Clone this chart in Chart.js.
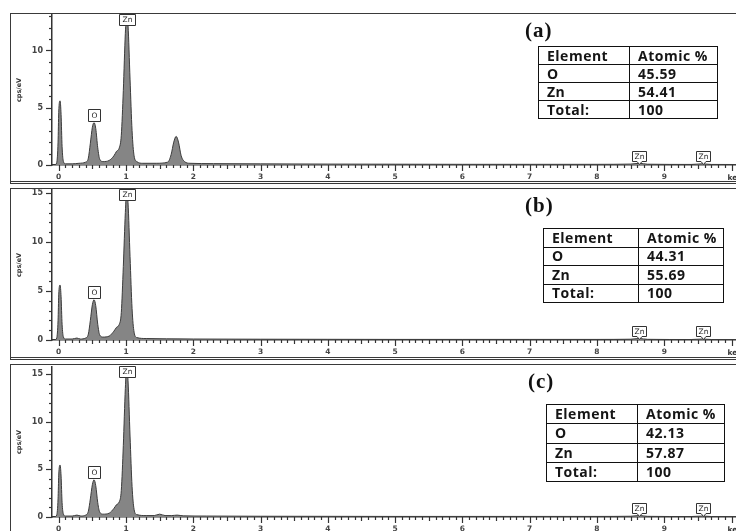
<!DOCTYPE html>
<html>
<head>
<meta charset="utf-8">
<script src="https://cdn.jsdelivr.net/npm/chart.js@4/dist/chart.umd.min.js"></script>
<style>
  html,body{margin:0;padding:0;background:#fff;}
  body{width:736px;height:531px;position:relative;overflow:hidden;}
  .panel{position:absolute;box-sizing:border-box;border:1.5px solid #3a3a3a;border-bottom:3px double #3a3a3a;background:#fff;}
  canvas{position:absolute;}
  .tbl{position:absolute;border-collapse:collapse;font-family:"Open Sans",sans-serif;font-weight:700;font-size:14px;color:#151515;letter-spacing:0.5px;}
  .tbl td{border:1.6px solid #111;padding:0 0 0 8px;line-height:1;white-space:nowrap;}
  .lbl{position:absolute;font-family:"Liberation Serif",serif;font-weight:700;font-size:21px;color:#111;letter-spacing:1px;line-height:1;}
</style>
</head>
<body>
<div class="panel" style="left:10px;top:13px;width:800px;height:171px"></div>
<div class="panel" style="left:10px;top:188px;width:800px;height:172px"></div>
<div class="panel" style="left:10px;top:364px;width:800px;height:200px"></div>
<canvas id="cA" width="740" height="169" style="left:11px;top:14px"></canvas>
<canvas id="cB" width="740" height="169" style="left:11px;top:189px"></canvas>
<canvas id="cC" width="740" height="169" style="left:11px;top:366px"></canvas>
<script>
// ---------- data ----------
const panelLabels = ['(a)', '(b)', '(c)'];
const tableHeader = ['Element', 'Atomic %'];
const tableElements = ['O', 'Zn', 'Total:'];
const atomicA = ['45.59', '54.41', '100'];
const atomicB = ['44.31', '55.69', '100'];
const atomicC = ['42.13', '57.87', '100'];

const energyA = [-0.06,-0.03,-0.01,0.0,0.02,0.035,0.05,0.07,0.1,0.2,0.3,0.4,0.44,0.47,0.5,0.525,0.55,0.58,0.61,0.66,0.75,0.82,0.86,0.9,0.93,0.96,0.99,1.01,1.03,1.06,1.09,1.12,1.16,1.25,1.45,1.62,1.67,1.71,1.745,1.78,1.82,1.87,1.95,2.3,3.0,4.0,5.0,6.0,7.0,8.0,8.5,8.63,8.75,9.4,9.57,9.7,10.2];
const countsA = [0,0.2,2.0,4.6,5.6,4.4,1.6,0.3,0.1,0.1,0.15,0.25,0.6,1.9,3.3,3.7,3.2,1.5,0.5,0.3,0.4,0.8,1.2,1.5,2.6,6.5,11.5,13.1,12.2,7.5,3,0.8,0.3,0.15,0.15,0.25,0.9,2.0,2.5,2.0,0.8,0.3,0.15,0.12,0.1,0.08,0.07,0.06,0.06,0.06,0.08,0.15,0.07,0.05,0.1,0.05,0.04];

const energyB = [-0.06,-0.03,-0.01,0.0,0.02,0.035,0.05,0.07,0.1,0.2,0.27,0.32,0.4,0.44,0.47,0.5,0.525,0.55,0.58,0.61,0.66,0.75,0.82,0.86,0.9,0.93,0.96,0.99,1.01,1.03,1.06,1.09,1.12,1.16,1.3,1.6,2.0,3.0,4.0,5.0,6.0,7.0,8.0,8.5,8.63,8.75,9.4,9.57,9.7,10.2];
const countsB = [0,0.2,2.0,4.6,5.6,4.4,1.6,0.3,0.1,0.1,0.2,0.1,0.2,0.6,2.0,3.6,4.1,3.5,1.6,0.5,0.3,0.4,0.9,1.3,1.6,2.8,7.5,13,15.3,14,8.5,3.2,0.8,0.25,0.15,0.12,0.1,0.08,0.07,0.06,0.06,0.06,0.06,0.08,0.15,0.07,0.05,0.1,0.05,0.04];

const energyC = [-0.06,-0.03,-0.01,0.0,0.02,0.035,0.05,0.07,0.1,0.2,0.27,0.33,0.4,0.44,0.47,0.5,0.525,0.55,0.58,0.61,0.66,0.75,0.82,0.86,0.9,0.93,0.96,0.99,1.01,1.03,1.06,1.09,1.12,1.16,1.3,1.42,1.5,1.58,1.68,1.76,1.85,2.2,3.0,4.0,5.0,6.0,7.0,8.0,8.5,8.63,8.75,9.4,9.57,9.7,10.2];
const countsC = [0,0.2,1.9,4.4,5.45,4.3,1.5,0.3,0.1,0.1,0.2,0.1,0.2,0.6,1.9,3.4,3.9,3.3,1.5,0.5,0.3,0.4,0.9,1.3,1.6,2.8,7.5,13.5,15.7,14.3,8.5,3.2,0.8,0.25,0.15,0.15,0.3,0.15,0.15,0.2,0.12,0.1,0.08,0.07,0.06,0.06,0.06,0.06,0.08,0.15,0.07,0.05,0.1,0.05,0.04];

const yMaxes = [13.1, 15.3, 15.75];
const peakTagText = ['O', 'Zn'];
const peakTagKeV = [0.525, 1.015];
const markerText = ['Zn', 'Zn'];
const markerKeV = [8.63, 9.57];
const xMinKeV = -0.1, xMaxKeV = 10.2;

// ---------- tables & labels ----------
const tableGeom = [
  {left:538, top:46, w:180, h:73, c1:82, lx:525, ly:20},
  {left:543, top:228, w:181, h:75, c1:86, lx:525, ly:195},
  {left:546, top:404, w:179, h:78, c1:82, lx:528, ly:371}
];
const atomics = [atomicA, atomicB, atomicC];
tableGeom.forEach((g, k) => {
  const t = document.createElement('table');
  t.className = 'tbl';
  t.style.left = g.left + 'px'; t.style.top = g.top + 'px';
  t.style.width = g.w + 'px'; t.style.height = g.h + 'px';
  const rows = [tableHeader].concat(tableElements.map((e, i) => [e, atomics[k][i]]));
  rows.forEach(r => {
    const tr = document.createElement('tr');
    r.forEach((c, j) => {
      const td = document.createElement('td');
      td.textContent = c;
      if (j === 0) td.style.width = g.c1 + 'px';
      tr.appendChild(td);
    });
    t.appendChild(tr);
  });
  document.body.appendChild(t);
  const l = document.createElement('div');
  l.className = 'lbl';
  l.style.left = g.lx + 'px'; l.style.top = g.ly + 'px';
  l.textContent = panelLabels[k];
  document.body.appendChild(l);
});

// ---------- chart decor plugin ----------
function tagBox(ctx, cx, top, w, h, text, pointer) {
  const x0 = Math.round(cx - w / 2) + 0.5, y0 = Math.round(top) + 0.5;
  ctx.beginPath();
  ctx.moveTo(x0, y0);
  ctx.lineTo(x0 + w, y0);
  ctx.lineTo(x0 + w, y0 + h);
  if (pointer) {
    ctx.lineTo(x0 + w / 2 + 2.5, y0 + h);
    ctx.lineTo(x0 + w / 2, y0 + h + 3);
    ctx.lineTo(x0 + w / 2 - 2.5, y0 + h);
  }
  ctx.lineTo(x0, y0 + h);
  ctx.closePath();
  ctx.fillStyle = '#fff';
  ctx.fill();
  ctx.strokeStyle = '#333';
  ctx.lineWidth = 1;
  ctx.stroke();
  ctx.fillStyle = '#222';
  ctx.font = '7.5px "DejaVu Sans"';
  ctx.textAlign = 'center';
  ctx.textBaseline = 'middle';
  ctx.fillText(text, x0 + w / 2, y0 + h / 2 + 0.5);
}

const decor = {
  id: 'decor',
  afterDatasetsDraw(chart) {
    const {ctx, chartArea: a, scales: {x, y}} = chart;
    const ds = chart.data.datasets[0].data;
    ctx.save();
    ctx.strokeStyle = '#333';
    ctx.lineWidth = 1.2;
    for (let i = 0; i <= 102; i++) {
      const px = Math.round(x.getPixelForValue(i / 10)) + 0.5;
      const len = i % 10 === 0 ? 6 : (i % 5 === 0 ? 4 : 3);
      ctx.beginPath(); ctx.moveTo(px, a.bottom); ctx.lineTo(px, a.bottom + len); ctx.stroke();
    }
    for (let v = 0; v <= y.max; v++) {
      const py = Math.round(y.getPixelForValue(v)) + 0.5;
      const len = v % 5 === 0 ? 6 : 3;
      ctx.beginPath(); ctx.moveTo(a.left - len, py); ctx.lineTo(a.left, py); ctx.stroke();
    }
    peakTagKeV.forEach((k, i) => {
      const cx = x.getPixelForValue(k);
      if (peakTagText[i] === 'Zn') {
        tagBox(ctx, cx, a.top - 1, 16, 11, peakTagText[i], false);
      } else {
        let best = ds[0];
        ds.forEach(p => { if (Math.abs(p.x - k) < Math.abs(best.x - k)) best = p; });
        const py = y.getPixelForValue(best.y);
        tagBox(ctx, cx, py - 14, 12, 12, peakTagText[i], false);
      }
    });
    markerKeV.forEach((k, i) => {
      tagBox(ctx, x.getPixelForValue(k), a.bottom - 14, 14, 10, markerText[i], true);
    });
    ctx.fillStyle = '#333';
    ctx.font = 'bold 7.5px "DejaVu Sans"';
    ctx.textAlign = 'left';
    ctx.textBaseline = 'middle';
    ctx.fillText('keV', x.getPixelForValue(9.94), a.bottom + 13);
    ctx.restore();
  }
};

function makeChart(id, energy, counts, yMax) {
  return new Chart(document.getElementById(id), {
    type: 'line',
    data: {
      datasets: [{
        data: energy.map((e, i) => ({x: e, y: counts[i]})),
        borderColor: '#3c3c3c',
        borderWidth: 1,
        backgroundColor: '#858585',
        fill: 'origin',
        pointRadius: 0,
        cubicInterpolationMode: 'monotone'
      }]
    },
    options: {
      responsive: false,
      animation: false,
      devicePixelRatio: 1,
      layout: {padding: {top: 1, right: 6, left: 0, bottom: 0}},
      plugins: {legend: {display: false}, tooltip: {enabled: false}},
      scales: {
        x: {
          type: 'linear', min: xMinKeV, max: xMaxKeV,
          grid: {display: false, drawTicks: false},
          border: {display: true, color: '#333', width: 1.5},
          ticks: {
            stepSize: 1, includeBounds: false, autoSkip: false, maxRotation: 0,
            padding: 8, color: '#444',
            font: {family: 'DejaVu Sans', size: 7.5, weight: 'bold'},
            callback: v => (v >= 0 && v <= 9 && Number.isInteger(v)) ? String(v) : ''
          },
          afterFit: s => { s.height = 18; s.paddingLeft = 0; s.paddingRight = 0; }
        },
        y: {
          type: 'linear', min: 0, max: yMax,
          grid: {display: false, drawTicks: false},
          border: {display: true, color: '#333', width: 1.5},
          ticks: {
            stepSize: 5, includeBounds: false, padding: 9, color: '#444',
            font: {family: 'DejaVu Sans', size: 8, weight: 'bold'},
            callback: v => (v % 5 === 0) ? String(v) : ''
          },
          title: {display: true, text: 'cps/eV', color: '#333', font: {family: 'DejaVu Sans', size: 6.5, weight: 'bold'}, padding: {top: 4, bottom: 2}},
          afterFit: s => { s.width = 41; s.paddingTop = 0; s.paddingBottom = 0; }
        }
      }
    },
    plugins: [decor]
  });
}

makeChart('cA', energyA, countsA, yMaxes[0]);
makeChart('cB', energyB, countsB, yMaxes[1]);
makeChart('cC', energyC, countsC, yMaxes[2]);
</script>
</body>
</html>
